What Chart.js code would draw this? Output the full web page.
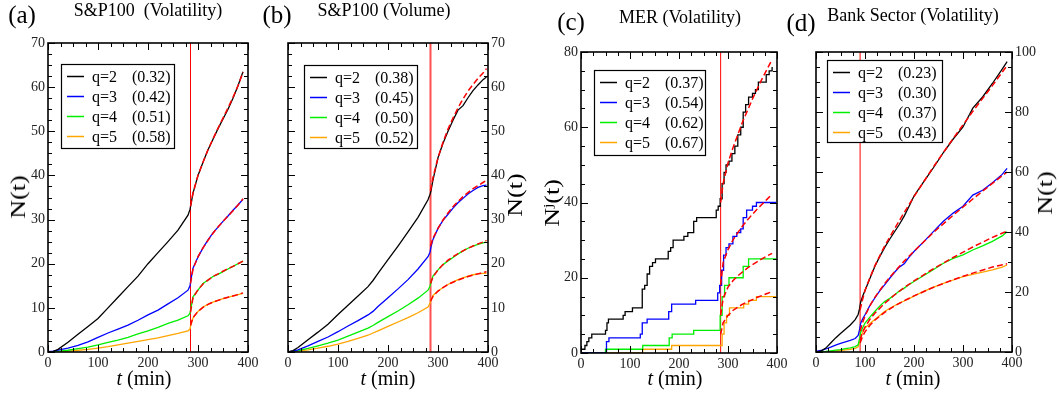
<!DOCTYPE html>
<html>
<head>
<meta charset="utf-8">
<script src="https://cdn.jsdelivr.net/npm/chart.js@4.4.0/dist/chart.umd.min.js"></script>
<style>
  body { margin: 0; background: #fff; }
  #fig { position: relative; width: 1059px; height: 393px; overflow: hidden; background: #fff;
         font-family: "Liberation Serif", "DejaVu Serif", serif; color: #000; }
  #fig canvas { position: absolute; top: 0; }
  .t { position: absolute; white-space: nowrap; line-height: 1; transform: translate(-50%, -50%); }
  .rot { transform: translate(-50%, -50%) rotate(-90deg) scale(1.3, 1); }
  .big { font-size: 25px; }
  .ttl { font-size: 18px; }
  .ax { font-size: 20px; }
</style>
</head>
<body>
<div id="fig">
  <canvas id="pa" width="262" height="393" style="left:0px"></canvas>
  <canvas id="pb" width="268" height="393" style="left:262px"></canvas>
  <canvas id="pc" width="270" height="393" style="left:530px"></canvas>
  <canvas id="pd" width="259" height="393" style="left:800px"></canvas>

  <div class="t big" style="left:22px;top:14px">(a)</div>
  <div class="t ttl" style="left:148px;top:10px">S&amp;P100&nbsp; (Volatility)</div>
  <div class="t big" style="left:277px;top:14px">(b)</div>
  <div class="t ttl" style="left:384px;top:10px">S&amp;P100 (Volume)</div>
  <div class="t big" style="left:571px;top:21px">(c)</div>
  <div class="t ttl" style="left:680px;top:17px">MER (Volatility)</div>
  <div class="t big" style="left:801px;top:22px">(d)</div>
  <div class="t ttl" style="left:913px;top:15px">Bank Sector (Volatility)</div>

  <div class="t ax rot" style="left:18px;top:197px">N(t)</div>
  <div class="t ax rot" style="left:515px;top:195px">N(t)</div>
  <div class="t ax rot" style="left:552px;top:203px">N<sup style="font-size:12px">j</sup>(t)</div>
  <div class="t ax rot" style="left:1045px;top:193px">N(t)</div>

  <div class="t ax" style="left:144px;top:378px"><i>t</i> (min)</div>
  <div class="t ax" style="left:388px;top:378px"><i>t</i> (min)</div>
  <div class="t ax" style="left:675px;top:378px"><i>t</i> (min)</div>
  <div class="t ax" style="left:913px;top:378px"><i>t</i> (min)</div>
</div>
<script>
// ---- data ----
const qLabels = ['q=2', 'q=3', 'q=4', 'q=5'];

// (a) S&P100 volatility
const tA = [0, 10, 20, 40, 60, 80, 100, 120, 140, 160, 180, 200, 220, 240, 260, 280, 284, 286, 290, 300, 310, 320, 330, 340, 350, 360, 370, 380, 390];
const a2 = [0, 0.1, 0.6, 2.2, 4, 5.8, 7.6, 10, 12.4, 14.8, 17.2, 20, 22.5, 25, 27.6, 31, 32.3, 33.5, 36, 40, 43, 45.8, 48.2, 50.6, 52.8, 55, 57.5, 60.3, 63.5];
const a3 = [0.1, 0.2, 0.4, 0.9, 1.5, 2.3, 3.3, 4.3, 5.2, 6.1, 7.2, 8.4, 9.5, 10.9, 12.3, 14, 15, 16.5, 19, 21.5, 23.6, 25.4, 27, 28.3, 29.6, 30.8, 32.1, 33.3, 34.6];
const a4 = [0, 0.05, 0.15, 0.4, 0.75, 1.1, 1.6, 2.2, 2.7, 3.3, 4.1, 4.8, 5.6, 6.5, 7.2, 8.2, 8.8, 10, 12.5, 14, 15.5, 16.3, 17.1, 17.6, 18.2, 18.8, 19.4, 20, 20.6];
const a5 = [0, 0, 0.05, 0.2, 0.4, 0.6, 0.9, 1.2, 1.6, 2.0, 2.4, 2.8, 3.2, 3.7, 4.2, 4.8, 5.2, 6.3, 7.7, 9.2, 10.2, 10.8, 11.3, 11.7, 12.1, 12.4, 12.7, 13, 13.3];
const fitTA = [285, 290, 300, 310, 320, 330, 340, 350, 360, 370, 380, 390];
const fitA2 = [33, 36, 40, 43, 45.8, 48.3, 50.7, 53, 55.3, 57.7, 60.3, 63.4];
const fitA3 = [15.5, 18.8, 21.6, 23.6, 25.3, 26.9, 28.3, 29.6, 30.8, 32, 33.3, 34.7];
const fitA4 = [9, 12.3, 14.1, 15.4, 16.3, 17.1, 17.7, 18.3, 18.9, 19.4, 20, 20.6];
const fitA5 = [6, 7.8, 9.2, 10.1, 10.8, 11.3, 11.7, 12.1, 12.4, 12.7, 13, 13.4];
const expA = [0.32, 0.42, 0.51, 0.58];

// (b) S&P100 volume
const tB = [0, 10, 20, 40, 60, 80, 100, 120, 140, 160, 170, 180, 200, 220, 240, 260, 280, 284, 286, 290, 300, 310, 320, 330, 340, 350, 360, 370, 380, 390, 397];
const b2 = [0, 0.3, 1, 2.8, 4.5, 6.3, 8.5, 10.6, 12.7, 14.8, 16.2, 17.8, 20.9, 24, 27.2, 30.5, 34.5, 35.7, 36.5, 39, 44, 47.3, 50, 52.5, 54.8, 55.8, 57.6, 59.2, 60.5, 61.7, 62.3];
const b3 = [0, 0.2, 0.5, 1.4, 2.4, 3.4, 4.6, 5.9, 7.1, 8.4, 9.2, 10.3, 12.3, 14.3, 16.4, 18.8, 21.6, 22.6, 23.8, 25.5, 28, 29.8, 31.2, 32.6, 33.8, 34.8, 35.8, 36.6, 37.3, 37.7, 37.8];
const b4 = [0, 0.1, 0.3, 0.8, 1.4, 2.0, 2.7, 3.6, 4.5, 5.4, 6.0, 6.7, 8.0, 9.3, 10.7, 12.2, 14.0, 14.9, 15.8, 17.2, 18.6, 19.8, 20.6, 21.4, 22.2, 22.9, 23.5, 24.0, 24.4, 24.7, 24.9];
const b5 = [0, 0.05, 0.2, 0.5, 0.9, 1.3, 1.8, 2.4, 3.1, 3.8, 4.3, 4.8, 5.8, 6.8, 7.8, 8.9, 10.2, 11.0, 11.8, 12.8, 13.8, 14.6, 15.3, 15.9, 16.4, 16.8, 17.2, 17.5, 17.7, 17.8, 17.8];
const fitTB = [285, 290, 300, 310, 320, 330, 340, 350, 360, 370, 380, 390, 397];
const fitB2 = [36.5, 39.5, 44, 47.5, 50.5, 53, 55.3, 57.3, 59.1, 60.6, 62, 63.2, 64.2];
const fitB3 = [24, 25.8, 28, 29.9, 31.5, 32.9, 34.1, 35.2, 36.1, 37, 37.7, 38.4, 38.9];
const fitB4 = [15.5, 17, 18.6, 19.8, 20.8, 21.6, 22.3, 22.9, 23.5, 24, 24.5, 24.9, 25.3];
const fitB5 = [11.5, 12.6, 13.8, 14.6, 15.3, 15.8, 16.3, 16.7, 17.1, 17.4, 17.7, 18, 18.2];
const expB = [0.38, 0.45, 0.50, 0.52];

// (c) MER volatility (step counts)
const tC2 = [0, 8, 12, 16, 22, 27, 50, 53, 56, 60, 86, 90, 97, 105, 122, 125, 130, 135, 140, 146, 152, 173, 178, 183, 188, 205, 210, 218, 224, 230, 236, 272, 276, 280, 284, 288, 292, 296, 302, 308, 314, 320, 326, 331, 336, 342, 350, 356, 362, 372, 378, 384, 390];
const c2 = [1, 2, 3, 4, 5, 5, 6, 8, 9, 9, 10, 11, 11, 12, 12, 17, 18, 21, 23, 24, 25, 25, 27, 28, 30, 30, 31, 32, 32, 35, 36, 36, 38, 39, 41, 45, 48, 50, 51, 53, 55, 58, 60, 64, 66, 68, 69, 70, 72, 72, 74, 75, 76];
const tC3 = [0, 50, 52, 57, 118, 121, 125, 135, 175, 179, 185, 230, 234, 275, 279, 283, 287, 291, 296, 302, 310, 318, 326, 331, 338, 350, 358, 398];
const c3 = [0, 0, 3, 4, 4, 5, 8, 9, 9, 11, 13, 13, 14, 14, 16, 18, 22, 26, 28, 29, 31, 32, 33, 36, 38, 39, 40, 40];
const tC4 = [0, 50, 126, 180, 186, 230, 280, 284, 288, 293, 302, 326, 331, 342, 398];
const c4 = [0, 1, 2, 4, 5, 6, 6, 10, 15, 18, 20, 20, 23, 25, 25];
const tC5 = [0, 126, 185, 284, 288, 292, 297, 303, 332, 342, 358, 398];
const c5 = [0, 1, 2, 2, 5, 8, 10, 12, 13, 14, 15, 15];
const fitTC = [285, 290, 300, 310, 320, 330, 340, 350, 360, 370, 380, 390];
const fitC2 = [40, 45, 50.5, 54.5, 58, 61.5, 64.5, 67.5, 70.3, 73, 75.5, 78];
const fitC3 = [18, 24, 27.5, 30, 32, 33.8, 35.4, 36.9, 38.3, 39.6, 40.9, 42.2];
const fitC4 = [10, 14.5, 17.5, 19.2, 20.5, 21.6, 22.6, 23.5, 24.3, 25.1, 25.8, 26.5];
const fitC5 = [5, 8, 10, 11.3, 12.2, 13, 13.6, 14.2, 14.8, 15.3, 15.8, 16.3];
const expC = [0.37, 0.54, 0.62, 0.67];

// (d) Bank sector volatility
const tD = [0, 10, 20, 30, 40, 50, 60, 70, 80, 86, 89, 91, 95, 100, 110, 120, 130, 140, 150, 160, 170, 180, 190, 200, 220, 240, 260, 280, 300, 320, 340, 360, 380, 390];
const d2 = [0, 0.3, 1.3, 3, 4.7, 6.2, 7.6, 9, 10.8, 12.5, 14.5, 16.5, 18.5, 20.5, 24.5, 28.5, 31.8, 34.8, 37.5, 40, 42.5, 45.3, 48.6, 52, 56.8, 61.5, 66.5, 71, 75, 81.3, 85, 89.5, 94.3, 96.8];
const d3 = [0.2, 0.5, 1.0, 1.6, 2.3, 2.9, 3.4, 3.9, 4.5, 5.5, 7.5, 9.5, 11, 12.4, 15.5, 18, 20.4, 22.4, 24.5, 26.5, 28.3, 29.4, 31.6, 33.5, 36.8, 40.2, 43.6, 46.3, 48.6, 52.3, 53.9, 56.4, 59.2, 61.2];
const d4 = [0, 0.1, 0.2, 0.4, 0.6, 0.8, 1.1, 1.4, 1.8, 2.4, 4.5, 6.5, 8, 9.6, 11.6, 13.5, 15.3, 16.8, 17.8, 19, 20.3, 21.3, 22.5, 23.5, 25.5, 27.5, 29.6, 31.2, 32.4, 34, 35.4, 36.9, 38.7, 40.1];
const d5 = [0, 0.05, 0.1, 0.2, 0.35, 0.5, 0.7, 0.9, 1.2, 1.7, 3.5, 5, 6.5, 8, 9.5, 10.8, 12.2, 13.5, 14.5, 15.4, 16.3, 17, 17.8, 18.6, 20.2, 21.6, 22.9, 24, 25.1, 25.9, 26.6, 27.4, 28.3, 29];
const fitTD = [90, 95, 100, 110, 120, 140, 160, 180, 200, 240, 280, 320, 360, 390];
const fitD2 = [14, 17.5, 20.5, 24.8, 28.7, 35.3, 41, 46.5, 51.8, 61.8, 71.2, 80.2, 88.8, 95.5];
const fitD3 = [7, 9.8, 12, 15.4, 18.2, 22.8, 26.7, 30.3, 33.6, 39.9, 45.6, 51, 56.2, 60];
const fitD4 = [4, 6.6, 8.3, 10.9, 12.9, 16.2, 19, 21.5, 23.7, 27.8, 31.5, 35, 38.2, 40.3];
const fitD5 = [3, 5.2, 6.7, 8.9, 10.6, 13.2, 15.3, 17.1, 18.7, 21.6, 24.1, 26.3, 28.3, 29.4];
const expD = [0.23, 0.30, 0.37, 0.43];

// ---- drawing ----
const colors = ['#000000', '#0000ff', '#00ee00', '#ffa500'];
const serif = "'Liberation Serif'";

function pts(ts, vs) {
  return ts.map((t, i) => ({ x: t, y: vs[i] }));
}

// box frame with inward major/minor ticks on all four sides
const framePlugin = {
  id: 'frame',
  afterDatasetsDraw(chart, args, o) {
    const { ctx, chartArea: a, scales: { x, y } } = chart;
    ctx.save();
    ctx.strokeStyle = '#000';
    ctx.lineWidth = 1;
    ctx.beginPath();
    for (let v = x.min; v <= x.max + 1e-6; v += o.xMinor) {
      const px = Math.round(x.getPixelForValue(v)) + 0.5;
      const len = Math.abs(v % o.xMajor) < 1e-6 ? 7 : 4;
      ctx.moveTo(px, a.bottom); ctx.lineTo(px, a.bottom - len);
      ctx.moveTo(px, a.top); ctx.lineTo(px, a.top + len);
    }
    for (let v = y.min; v <= y.max + 1e-6; v += o.yMinor) {
      const py = Math.round(y.getPixelForValue(v)) + 0.5;
      const len = Math.abs(v % o.yMajor) < 1e-6 ? 7 : 4;
      ctx.moveTo(a.left, py); ctx.lineTo(a.left + len, py);
      ctx.moveTo(a.right, py); ctx.lineTo(a.right - len, py);
    }
    ctx.stroke();
    ctx.lineWidth = 1.6;
    ctx.strokeRect(a.left, a.top, a.right - a.left, a.bottom - a.top);
    ctx.restore();
  }
};

// legend box: line sample, q label and the fitted exponent
const qLegend = {
  id: 'qlegend',
  afterDraw(chart, args, o) {
    const { ctx, chartArea: a } = chart;
    const bx = a.left + o.dx, by = a.top + o.dy;
    ctx.save();
    ctx.fillStyle = '#fff';
    ctx.fillRect(bx, by, o.w, o.h);
    ctx.strokeStyle = '#000';
    ctx.lineWidth = 1.2;
    ctx.strokeRect(bx + 0.5, by + 0.5, o.w, o.h);
    ctx.font = '16px ' + serif;
    ctx.textBaseline = 'middle';
    qLabels.forEach((lab, i) => {
      const yy = by + 12.5 + i * 20;
      ctx.strokeStyle = colors[i];
      ctx.lineWidth = 1.5;
      ctx.beginPath();
      ctx.moveTo(bx + 6, yy); ctx.lineTo(bx + 23, yy);
      ctx.stroke();
      ctx.fillStyle = '#000';
      ctx.fillText(lab, bx + 31, yy + 1);
      ctx.fillText('(' + o.exps[i].toFixed(2) + ')', bx + 71, yy + 1);
    });
    ctx.restore();
  }
};

function makePanel(id, p) {
  const datasets = [];
  p.fits.forEach((f) => {
    datasets.push({ data: pts(p.fitT, f), borderColor: '#ff0000', borderWidth: 1.5,
                    borderDash: [6, 3], order: 0 });
  });
  p.series.forEach((s, i) => {
    datasets.push({ data: pts(s[0], s[1]), borderColor: colors[i], borderWidth: 1.3,
                    stepped: p.stepped || false, order: 1 });
  });
  datasets.push({ data: pts([p.cut, p.cut], [0, p.yMax]), borderColor: p.cutColor || '#ff0000',
                  borderWidth: p.cutWidth || 1, order: 2 });

  const tickFont = { family: serif, size: 14 };
  return new Chart(document.getElementById(id), {
    type: 'line',
    data: { datasets },
    options: {
      responsive: false,
      animation: false,
      events: [],
      layout: { padding: p.pad },
      elements: { point: { radius: 0 }, line: { tension: 0, fill: false } },
      plugins: {
        legend: { display: false },
        tooltip: { enabled: false },
        frame: { xMajor: 100, xMinor: 25, yMajor: p.yStep, yMinor: p.yStep / 4 },
        qlegend: Object.assign({ exps: p.exps }, p.legendBox)
      },
      scales: {
        x: {
          type: 'linear', min: 0, max: 400, position: 'bottom',
          ticks: { stepSize: 100, font: tickFont, color: '#222', padding: 3, maxRotation: 0 },
          grid: { display: false, drawTicks: false },
          border: { display: false },
          afterFit(s) { s.height = p.xH; }
        },
        y: {
          type: 'linear', min: 0, max: p.yMax, position: p.yPos,
          ticks: { stepSize: p.yStep, font: tickFont, color: '#222', padding: 3 },
          grid: { display: false, drawTicks: false },
          border: { display: false },
          afterFit(s) { s.width = p.yW; }
        }
      }
    },
    plugins: [framePlugin, qLegend]
  });
}

function drawAll() {
  makePanel('pa', {
    series: [[tA, a2], [tA, a3], [tA, a4], [tA, a5]],
    fitT: fitTA, fits: [fitA2, fitA3, fitA4, fitA5], exps: expA,
    cut: 285, yMax: 70, yStep: 10, yPos: 'left',
    pad: { left: 0, right: 14, top: 43, bottom: 0 }, yW: 48, xH: 41,
    legendBox: { dx: 13, dy: 21, w: 113, h: 84 }
  });

  makePanel('pb', {
    series: [[tB, b2], [tB, b3], [tB, b4], [tB, b5]],
    fitT: fitTB, fits: [fitB2, fitB3, fitB4, fitB5], exps: expB,
    cut: 285, cutColor: '#ff5050', cutWidth: 2, yMax: 70, yStep: 10, yPos: 'right',
    pad: { left: 26, right: 0, top: 43, bottom: 0 }, yW: 42, xH: 41,
    legendBox: { dx: 16, dy: 22, w: 113, h: 83 }
  });

  makePanel('pc', {
    series: [[tC2, c2], [tC3, c3], [tC4, c4], [tC5, c5]], stepped: true,
    fitT: fitTC, fits: [fitC2, fitC3, fitC4, fitC5], exps: expC,
    cut: 285, yMax: 80, yStep: 20, yPos: 'left',
    pad: { left: 0, right: 23, top: 52, bottom: 0 }, yW: 51, xH: 40,
    legendBox: { dx: 13, dy: 18, w: 111, h: 85 }
  });

  makePanel('pd', {
    series: [[tD, d2], [tD, d3], [tD, d4], [tD, d5]],
    fitT: fitTD, fits: [fitD2, fitD3, fitD4, fitD5], exps: expD,
    cut: 90, yMax: 100, yStep: 20, yPos: 'right',
    pad: { left: 16, right: 0, top: 52, bottom: 0 }, yW: 47, xH: 41,
    legendBox: { dx: 11, dy: 8, w: 115, h: 82 }
  });
}

// make sure the serif face is ready before the canvases draw text
Promise.all([
  document.fonts.load("14px 'Liberation Serif'"),
  document.fonts.load("italic 14px 'Liberation Serif'")
]).then(drawAll, drawAll);
</script>
</body>
</html>
